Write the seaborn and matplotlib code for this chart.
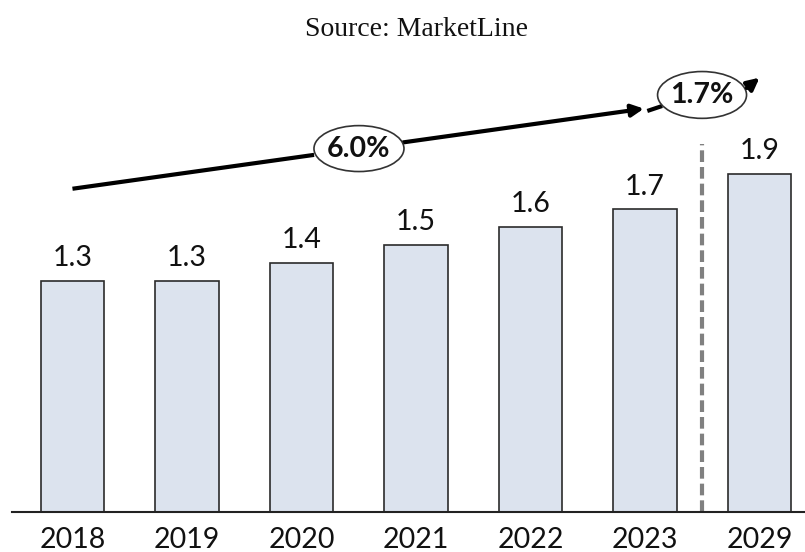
import matplotlib
matplotlib.use("Agg")
import matplotlib.pyplot as plt
from matplotlib.patches import Ellipse
import seaborn as sns
import pandas as pd

# Market value by year
years = ["2018", "2019", "2020", "2021", "2022", "2023", "2029"]
values = [1.3, 1.3, 1.4, 1.5, 1.6, 1.7, 1.9]
cagr_labels = ["6.0%", "1.7%"]
title = "Source: MarketLine"

sns.set_theme(style="white")
plt.rcParams["font.family"] = ["Lato", "DejaVu Sans"]

df = pd.DataFrame({"year": years, "value": values})

fig = plt.figure(figsize=(8.05, 5.52), dpi=100)
ax = fig.add_axes([12 / 805, 40 / 552, 793 / 805, 445 / 552])

sns.barplot(data=df, x="year", y="value", order=years, color="#dce3ee",
            saturation=1, width=0.555, edgecolor="#2b2b2b", linewidth=1.2, ax=ax)

ax.set_xlim(-0.528, 6.397)
ax.set_ylim(0, 2.5)

# value labels over each bar
for i, v in enumerate(values):
    ax.annotate(f"{v:.1f}", (i, v), xytext=(0, 7), textcoords="offset points",
                ha="center", va="bottom", fontsize=20.5, color="#111111")

# separator between history and forecast
ax.plot([5.5, 5.5], [0, 2.07], color="#808080", lw=3,
        linestyle=(0, (2.8, 1.2)), zorder=1)

# growth arrow across the historical period
slope = 0.0902
y0 = 1.816
def yline(x):
    return y0 + slope * (x - 0.0)

arrow_kw = dict(arrowstyle="-|>,head_length=0.6,head_width=0.3", color="black",
                lw=3, shrinkA=0, shrinkB=0)
ax.plot([0.0, 2.11], [yline(0.0), yline(2.11)], color="black", lw=3,
        solid_capstyle="butt")
ax.annotate("", xy=(4.99, yline(4.99)), xytext=(2.89, yline(2.89)),
            arrowprops=arrow_kw)

e1 = Ellipse((2.502, yline(2.502)), 0.786, 0.258, facecolor="white",
             edgecolor="#333333", lw=1.2, zorder=3)
ax.add_patch(e1)
ax.text(2.502, yline(2.502), cagr_labels[0], ha="center", va="center",
        fontsize=20.5, fontweight="bold", color="#111111", zorder=4)

# forecast growth
cx, cy = 5.498, 2.343
ax.plot([5.02, 5.15], [2.253, 2.281], color="black", lw=3, solid_capstyle="butt")
e2 = Ellipse((cx, cy), 0.777, 0.263, facecolor="white",
             edgecolor="#333333", lw=1.2, zorder=3)
ax.add_patch(e2)
ax.text(cx, cy, cagr_labels[1], ha="center", va="center",
        fontsize=20.5, fontweight="bold", color="#111111", zorder=4)
ax.annotate("", xy=(6.0, 2.44), xytext=(5.89, 2.382), arrowprops=arrow_kw)

# axes styling
for s in ["top", "right", "left"]:
    ax.spines[s].set_visible(False)
ax.spines["bottom"].set_color("#222222")
ax.spines["bottom"].set_linewidth(1.5)
ax.set_yticks([])
ax.set_xlabel("")
ax.set_ylabel("")
ax.tick_params(axis="x", length=0, pad=11, labelsize=20.5, labelcolor="#111111")

fig.text(416 / 805, 1 - 30 / 552, title, ha="center", va="center",
         fontsize=20, family="Liberation Serif", color="#111111")

fig.savefig("out.png", dpi=100)
